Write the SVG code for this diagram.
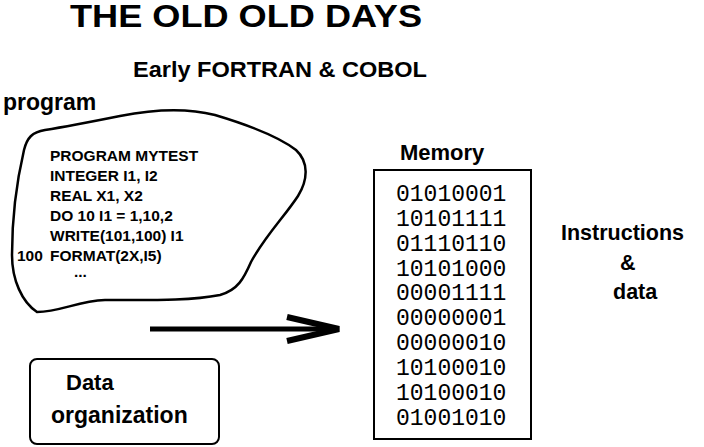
<svg xmlns="http://www.w3.org/2000/svg" width="704" height="447" viewBox="0 0 704 447">
<style>
.t{font-family:"Liberation Sans",Arial,Helvetica,sans-serif;font-weight:bold;fill:#000}
.code{font-family:"Liberation Sans",Arial,Helvetica,sans-serif;font-weight:bold;font-size:15.5px;fill:#000}
.mono{font-family:"Liberation Mono","Courier New",monospace;font-size:23px;fill:#000}
.ln{fill:none;stroke:#000}
</style>
<rect width="704" height="447" fill="#fff"/>
<g id="title">
<text class="t" x="70" y="27" font-size="31" textLength="352" lengthAdjust="spacingAndGlyphs">THE OLD OLD DAYS</text>
<text class="t" x="133" y="77" font-size="22" textLength="294" lengthAdjust="spacingAndGlyphs">Early FORTRAN &amp; COBOL</text>
</g>
<g id="program">
<text class="t" x="3" y="110" font-size="23">program</text>
<path class="ln" stroke-width="2.5" d="M37,312 C22,302 12,280 12,255 C12,220 17,180 24,150 C27,138 32,132 45,130 C70,126 95,121 120,116 C145,111 180,106 215,115 C245,124 278,136 296,150 C309,162 308,180 298,196 C285,216 265,236 251,262 C244,278 238,290 220,295 C190,301 150,300 105,300 C78,301 60,312 37,312 Z"/>
<text class="code" x="50" y="161">PROGRAM MYTEST</text>
<text class="code" x="50" y="181">INTEGER I1, I2</text>
<text class="code" x="50" y="201">REAL X1, X2</text>
<text class="code" x="50" y="221">DO 10 I1 = 1,10,2</text>
<text class="code" x="50" y="241">WRITE(101,100) I1</text>
<text class="code" x="17" y="261">100</text>
<text class="code" x="50" y="261">FORMAT(2X,I5)</text>
<text class="code" x="74" y="277" font-size="13">...</text>
</g>
<g id="connectors">
<line class="ln" x1="150" y1="329" x2="334" y2="329" stroke-width="5"/>
<polyline class="ln" points="287,317 339,329 287,341" stroke-width="6" stroke-linejoin="miter"/>
</g>
<g id="memory">
<text class="t" x="400" y="160" font-size="22">Memory</text>
<rect class="ln" x="374" y="170" width="157" height="269" stroke-width="2"/>
<text class="mono" x="396" y="201">01010001</text>
<text class="mono" x="396" y="226">10101111</text>
<text class="mono" x="396" y="251">01110110</text>
<text class="mono" x="396" y="276">10101000</text>
<text class="mono" x="396" y="300">00001111</text>
<text class="mono" x="396" y="325">00000001</text>
<text class="mono" x="396" y="350">00000010</text>
<text class="mono" x="396" y="375">10100010</text>
<text class="mono" x="396" y="400">10100010</text>
<text class="mono" x="396" y="425">01001010</text>
</g>
<g id="instructions">
<text class="t" x="561" y="240" font-size="21.5">Instructions</text>
<text class="t" x="620" y="270" font-size="21.5">&amp;</text>
<text class="t" x="613" y="299" font-size="21.5">data</text>
</g>
<g id="data-organization">
<rect class="ln" x="30" y="359" width="189" height="85" rx="7" stroke-width="2"/>
<text class="t" x="66" y="390" font-size="22">Data</text>
<text class="t" x="51" y="423" font-size="23">organization</text>
</g>
</svg>
